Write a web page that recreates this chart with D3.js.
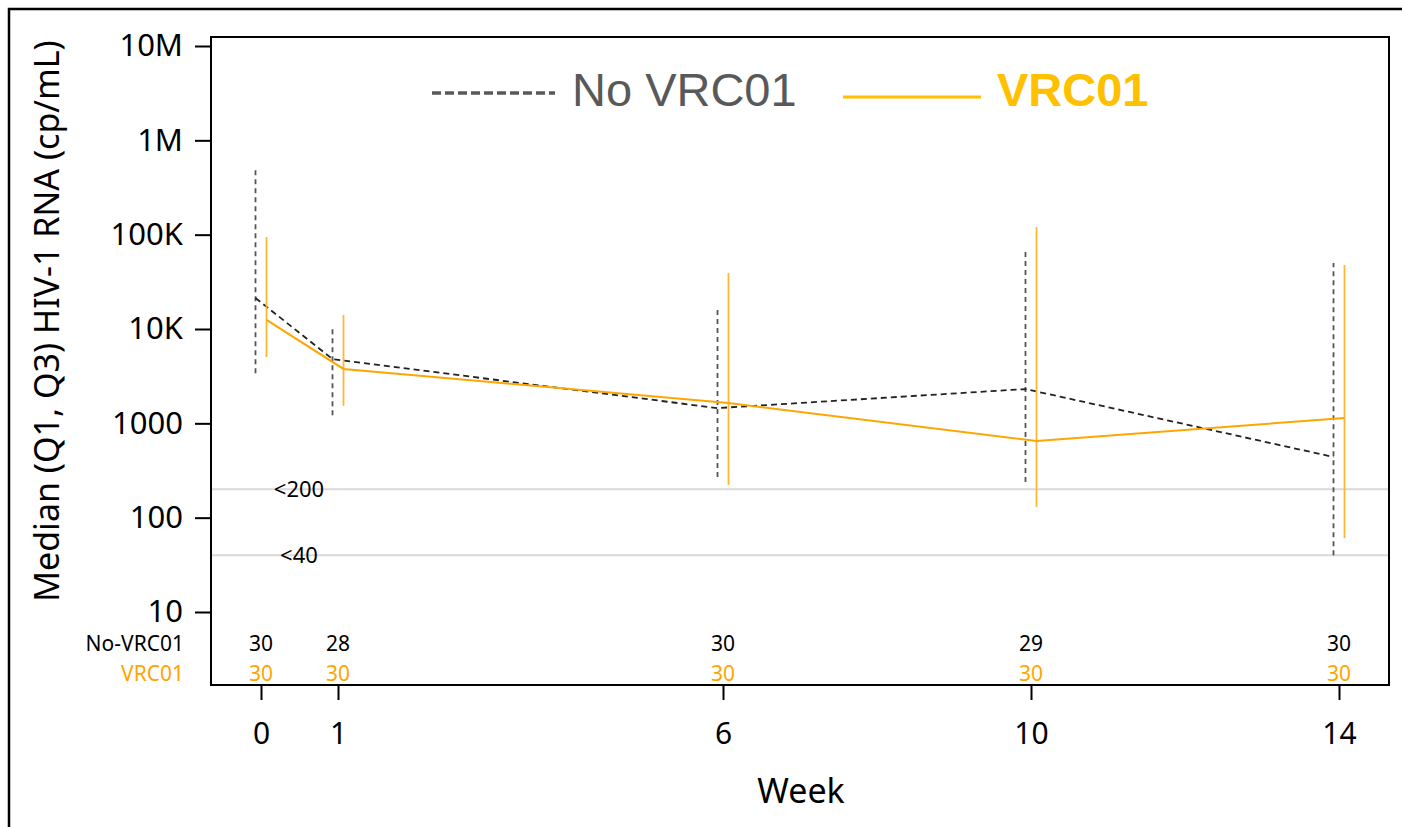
<!DOCTYPE html>
<html>
<head>
<meta charset="utf-8">
<script src="https://cdn.jsdelivr.net/npm/d3@7/dist/d3.min.js"></script>
<style>
  html, body { margin: 0; padding: 0; background: #fff; }
  svg { display: block; }
</style>
</head>
<body>
<svg id="chart" width="1402" height="827"></svg>
<script>
// Study visit weeks and viral load summaries (median, Q1, Q3, cp/mL)
const weeks = [0, 1, 6, 10, 14];

const noVrcMedian = [21300, 4800, 1450, 2310, 440];
const noVrcQ1     = [3400, 1220, 270, 239, 40];
const noVrcQ3     = [521000, 10200, 16300, 70500, 50100];

const vrcMedian = [12500, 3770, 1640, 650, 1140];
const vrcQ1     = [5050, 1530, 222, 130, 61];
const vrcQ3     = [94500, 14100, 39200, 120600, 47700];

// Participants with a measurement at each visit
const noVrcN = [30, 28, 30, 29, 30];
const vrcN   = [30, 30, 30, 30, 30];

// Limits of quantification drawn as reference lines
const limits = [200, 40];
const limitLabels = ["<200", "<40"];

const yTickValues = [10, 100, 1000, 10000, 100000, 1000000, 10000000];
const yTickLabels = ["10", "100", "1000", "10K", "100K", "1M", "10M"];

const ORANGE = "#FFA500";
const LEGEND_ORANGE = "#FFC000";
const FONT = "'Noto Sans', 'Open Sans', sans-serif";

const svg = d3.select("#chart");

// Panel frame
const frame = { left: 211, right: 1389, top: 37, bottom: 685 };

const x = d3.scaleLinear().domain([0, 14]).range([261, 1339]);
const y = d3.scaleLog().domain([10, 1e7]).range([612, 46]);
const dodge = 5.5;

// Outer figure border (top and left edges)
svg.append("path")
  .attr("d", `M9,827 V9 H1402`)
  .attr("fill", "none").attr("stroke", "#000").attr("stroke-width", 2.5);

// Reference lines for assay limits
const g = svg.append("g");
g.selectAll("line.limit").data(limits).join("line")
  .attr("class", "limit")
  .attr("x1", frame.left).attr("x2", frame.right)
  .attr("y1", d => y(d)).attr("y2", d => y(d))
  .attr("stroke", "#d9d9d9").attr("stroke-width", 2);

g.selectAll("text.limit").data(limits).join("text")
  .attr("class", "limit")
  .attr("x", 299).attr("y", d => y(d))
  .attr("dy", "0.35em")
  .attr("text-anchor", "middle")
  .attr("font-family", FONT).attr("font-size", 22)
  .attr("fill", "#000")
  .text((d, i) => limitLabels[i]);

// Build per-group records
function rows(med, q1, q3, off) {
  return weeks.map((w, i) => ({ w, med: med[i], q1: q1[i], q3: q3[i], off }));
}
const noVrc = rows(noVrcMedian, noVrcQ1, noVrcQ3, -dodge);
const vrc = rows(vrcMedian, vrcQ1, vrcQ3, dodge);

const line = d3.line().x(d => x(d.w) + d.off).y(d => y(d.med));

// No VRC01: dashed interquartile bars and dashed median line
g.selectAll("line.bar0").data(noVrc).join("line")
  .attr("class", "bar0")
  .attr("x1", d => x(d.w) + d.off).attr("x2", d => x(d.w) + d.off)
  .attr("y1", d => y(d.q1)).attr("y2", d => y(d.q3))
  .attr("stroke", "#555").attr("stroke-width", 1.8)
  .attr("stroke-dasharray", "5,4");

g.append("path").datum(noVrc)
  .attr("d", line)
  .attr("fill", "none").attr("stroke", "#222").attr("stroke-width", 1.8)
  .attr("stroke-dasharray", "6,4");

// VRC01: solid orange bars and median line
g.selectAll("line.bar1").data(vrc).join("line")
  .attr("class", "bar1")
  .attr("x1", d => x(d.w) + d.off).attr("x2", d => x(d.w) + d.off)
  .attr("y1", d => y(d.q1)).attr("y2", d => y(d.q3))
  .attr("stroke", "#FFB733").attr("stroke-width", 1.8);

g.append("path").datum(vrc)
  .attr("d", line)
  .attr("fill", "none").attr("stroke", ORANGE).attr("stroke-width", 2);

// Panel border
svg.append("rect")
  .attr("x", frame.left).attr("y", frame.top)
  .attr("width", frame.right - frame.left).attr("height", frame.bottom - frame.top)
  .attr("fill", "none").attr("stroke", "#000").attr("stroke-width", 2);

// Y axis
const yAxis = d3.axisLeft(y)
  .tickValues(yTickValues)
  .tickFormat((d, i) => yTickLabels[i])
  .tickSize(16).tickPadding(12);
const yg = svg.append("g").attr("transform", `translate(${frame.left},0)`).call(yAxis);
yg.select(".domain").remove();
yg.selectAll(".tick line").attr("stroke", "#000").attr("stroke-width", 2);
yg.selectAll(".tick text")
  .attr("font-family", FONT).attr("font-size", 31).attr("fill", "#000");

// X axis
const xAxis = d3.axisBottom(x).tickValues(weeks).tickSize(15).tickPadding(23);
const xg = svg.append("g").attr("transform", `translate(0,${frame.bottom})`).call(xAxis);
xg.select(".domain").remove();
xg.selectAll(".tick line").attr("stroke", "#000").attr("stroke-width", 2);
xg.selectAll(".tick text")
  .attr("font-family", FONT).attr("font-size", 30).attr("fill", "#000");

// Axis titles
svg.append("text")
  .attr("transform", `translate(59,321) rotate(-90)`)
  .attr("text-anchor", "middle")
  .attr("font-family", FONT).attr("font-size", 34).attr("fill", "#000")
  .text("Median (Q1, Q3) HIV-1 RNA (cp/mL)");

svg.append("text")
  .attr("x", 801).attr("y", 803)
  .attr("text-anchor", "middle")
  .attr("font-family", FONT).attr("font-size", 34).attr("fill", "#000")
  .text("Week");

// Numbers at risk rows
const nRows = [
  { label: "No-VRC01", values: noVrcN, color: "#000", yPos: 644 },
  { label: "VRC01", values: vrcN, color: ORANGE, yPos: 674 }
];
nRows.forEach(r => {
  svg.append("text")
    .attr("x", 184).attr("y", r.yPos).attr("dy", "0.35em")
    .attr("text-anchor", "end")
    .attr("font-family", FONT).attr("font-size", 21).attr("fill", r.color)
    .text(r.label);
  svg.selectAll(null).data(r.values).join("text")
    .attr("x", (d, i) => x(weeks[i]))
    .attr("y", r.yPos).attr("dy", "0.35em")
    .attr("text-anchor", "middle")
    .attr("font-family", FONT).attr("font-size", 21).attr("fill", r.color)
    .text(d => d);
});

// Legend
const LEG_FONT = "'Liberation Sans', Arial, sans-serif";
svg.append("line")
  .attr("x1", 432).attr("x2", 555).attr("y1", 93).attr("y2", 93)
  .attr("stroke", "#595959").attr("stroke-width", 3.5)
  .attr("stroke-dasharray", "9,4");
svg.append("text")
  .attr("x", 572).attr("y", 106)
  .attr("font-family", LEG_FONT).attr("font-size", 47).attr("fill", "#595959")
  .text("No VRC01");
svg.append("line")
  .attr("x1", 843).attr("x2", 981).attr("y1", 97).attr("y2", 97)
  .attr("stroke", LEGEND_ORANGE).attr("stroke-width", 3);
svg.append("text")
  .attr("x", 997).attr("y", 106)
  .attr("font-family", LEG_FONT).attr("font-size", 47).attr("font-weight", "bold")
  .attr("fill", LEGEND_ORANGE)
  .text("VRC01");
</script>
</body>
</html>
